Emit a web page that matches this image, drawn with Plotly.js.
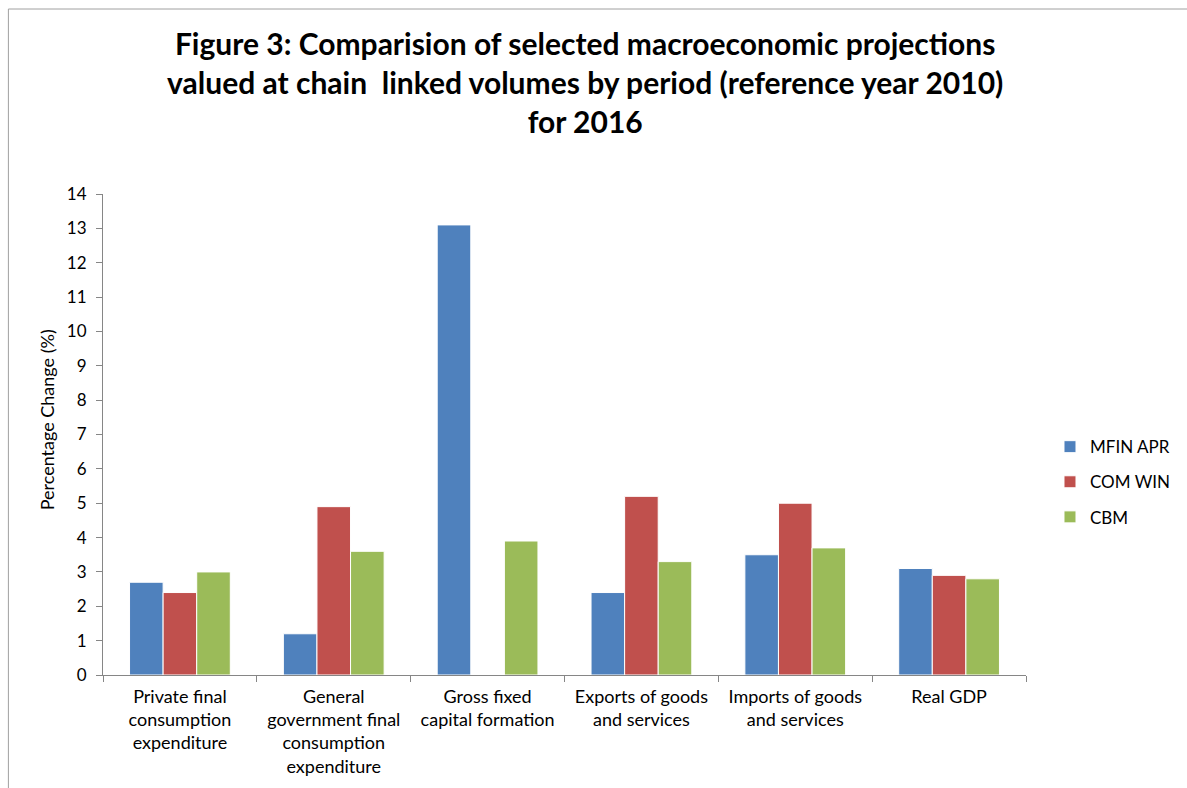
<!DOCTYPE html>
<html>
<head>
<meta charset="utf-8">
<script src="https://cdn.plot.ly/plotly-3.0.1.min.js"></script>
<style>html,body{margin:0;padding:0;background:#fff;}#chart{width:1187px;height:788px;}</style>
</head>
<body>
<div id="chart"></div>
<script>
const categories = [
  "Private final<br>consumption<br>expenditure",
  "General<br>government final<br>consumption<br>expenditure",
  "Gross fixed<br>capital formation",
  "Exports of goods<br>and services",
  "Imports of goods<br>and services",
  "Real GDP"
];
const seriesNames = ["MFIN APR", "COM WIN", "CBM"];
const mfinApr = [2.7, 1.2, 13.1, 2.4, 3.5, 3.1];
const comWin  = [2.4, 4.9, null, 5.2, 5.0, 2.9];
const cbm     = [3.0, 3.6, 3.9, 3.3, 3.7, 2.8];
const colors = ["#4F81BD", "#C0504D", "#9BBB59"];
const yTicks = [0,1,2,3,4,5,6,7,8,9,10,11,12,13,14];

const font = "Lato, 'Open Sans', sans-serif";
const allSeries = [mfinApr, comWin, cbm];
const traces = allSeries.map((vals, i) => ({
  type: "bar",
  name: seriesNames[i],
  legendgroup: "g" + i,
  x: categories,
  y: vals,
  marker: {color: colors[i], line: {color: "#ffffff", width: 1}},
  hoverinfo: "x+y+name"
}));

const layout = {
  width: 1187, height: 788,
  paper_bgcolor: "#ffffff", plot_bgcolor: "#ffffff",
  margin: {l: 103, r: 157, t: 194, b: 113, pad: 0},
  font: {family: font, color: "#000000", size: 15},
  title: {
    text: "<b>Figure 3: Comparision of selected macroeconomic projections<br>valued at chain  linked volumes by period (reference year 2010)<br>for 2016</b>",
    font: {family: font, size: 30, color: "#000000"},
    x: 0.493, xref: "container", xanchor: "center",
    y: 0.930, yref: "container", yanchor: "middle"
  },
  barmode: "group",
  bargap: 0.345,
  bargroupgap: 0,
  xaxis: {
    type: "category",
    showgrid: false, zeroline: false,
    showline: true, linecolor: "#868686", linewidth: 1,
    ticks: "outside", tickson: "boundaries", ticklen: 6, tickcolor: "#868686",
    tickfont: {family: font, size: 18, color: "#000000"},
    ticklabelstandoff: 5,
    automargin: false
  },
  yaxis: {
    range: [0, 14],
    tickvals: yTicks, ticktext: yTicks.map(String),
    showgrid: false, zeroline: false,
    showline: true, linecolor: "#868686", linewidth: 1,
    ticks: "outside", ticklen: 6, tickcolor: "#868686",
    tickfont: {family: font, size: 17, color: "#000000"},
    ticklabelstandoff: 6,
    automargin: false
  },
  annotations: [
    {text: "Percentage Change (%)", xref: "paper", yref: "paper", x: -0.0604, y: 0.530,
     xanchor: "center", yanchor: "middle", textangle: -90, showarrow: false,
     font: {family: font, size: 18, color: "#000000"}}
  ],
  legend: {
    x: 1.026, xanchor: "left", y: 0.401, yanchor: "middle",
    font: {family: font, size: 17, color: "#000000"},
    itemwidth: 30, tracegroupgap: 10,
    bgcolor: "rgba(0,0,0,0)"
  },
  shapes: [
    {type: "line", xref: "paper", yref: "paper", x0: -0.1025, x1: 1.2, y0: 1.3846, y1: 1.3846, line: {color: "#a0a0a0", width: 1}},
    {type: "line", xref: "paper", yref: "paper", x0: -0.1025, x1: -0.1025, y0: 1.3846, y1: -0.3, line: {color: "#a0a0a0", width: 1}}
  ],
  showlegend: true
};

Plotly.newPlot("chart", traces, layout, {displayModeBar: false, staticPlot: true});
</script>
</body>
</html>
